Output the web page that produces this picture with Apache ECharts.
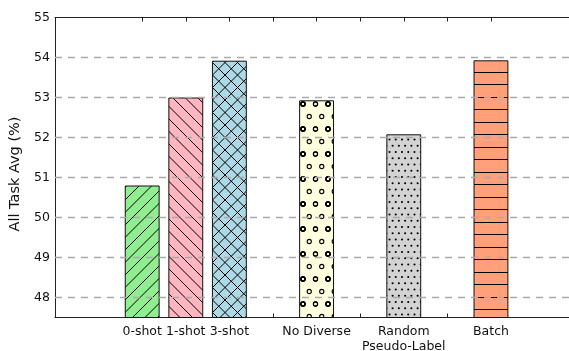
<!DOCTYPE html>
<html>
<head>
<meta charset="utf-8">
<script src="https://cdn.jsdelivr.net/npm/echarts@6/dist/echarts.min.js"></script>
<style>
  html, body { margin: 0; padding: 0; background: #fff; }
  #chart { width: 569px; height: 351px; }
</style>
</head>
<body>
<div id="chart"></div>
<script>
// Bar labels, their slot on the x axis, and the averaged score of each setting
const categories = ['0-shot', '1-shot', '3-shot', 'No Diverse', 'Random\nPseudo-Label', 'Batch'];
const positions = [0, 1, 2, 4, 6, 8];
const scores = [50.80, 53.00, 53.92, 52.93, 52.08, 53.93];

// Axis ticks
const xTickSlots = [0, 1, 2, 3, 4, 5, 6, 7, 8];
const yTicks = [48, 49, 50, 51, 52, 53, 54, 55];
const yGrid = [48, 49, 50, 51, 52, 53, 54];

// Fill colour and hatch style per bar
const fills = ['#90EE90', '#FFB6C1', '#ADD8E6', '#FFFFE0', '#D3D3D3', '#FFA07A'];
const hatches = ['/', '\\', 'x', 'o', '.', '-'];

const FONT = 'DejaVu Sans';
// the plot runs off the right edge of the figure, so the visible x range ends short of 10
const X_MIN = -2, X_MAX = 9.79;
const GRID = { left: 55, top: 17.5, width: 514, height: 300 };

// Build a repeating canvas tile with the fill colour and a black hatch on top
function hatchTile(fill, kind) {
  const S = 25, step = 12.5;
  const c = document.createElement('canvas');
  c.width = S; c.height = S;
  const g = c.getContext('2d');
  g.fillStyle = fill;
  g.fillRect(0, 0, S, S);
  g.strokeStyle = '#000';
  g.fillStyle = '#000';
  g.lineWidth = 1;

  const rising = () => {
    g.beginPath();
    for (let k = -4; k <= 12; k++) {
      const cc = k * step - S;
      g.moveTo(-S, cc + S);
      g.lineTo(2 * S, cc - 2 * S);
    }
    g.stroke();
  };
  const falling = () => {
    g.beginPath();
    for (let k = -8; k <= 8; k++) {
      const cc = k * step;
      g.moveTo(-S, cc - S);
      g.lineTo(2 * S, cc + 2 * S);
    }
    g.stroke();
  };

  if (kind === '/') rising();
  else if (kind === '\\') falling();
  else if (kind === 'x') { rising(); falling(); }
  else if (kind === '-') {
    g.beginPath();
    [9.5, 22.5].forEach(y => { g.moveTo(0, y); g.lineTo(S, y); });
    g.stroke();
  } else if (kind === 'o') {
    g.lineWidth = 1.1;
    const rows = [[0, [0, 12.5, 25]], [12.5, [6.25, 18.75]], [25, [0, 12.5, 25]]];
    const shifts = [[0, 0], [-S, 0], [0, -S], [-S, -S]];
    rows.forEach(([y, xs]) => xs.forEach(x => {
      shifts.forEach(([dx, dy]) => {
        g.beginPath();
        g.arc(x + 3 + dx, y + 4 + dy, 2.1, 0, Math.PI * 2);
        g.stroke();
      });
    }));
  } else if (kind === '.') {
    const d = 6.25;
    for (let k = 0; k <= 4; k++) {
      for (let m = -1; m <= 4; m++) {
        const x = m * d + (k % 2 ? d / 2 : 0) + 2;
        const y = k * d + 2;
        g.beginPath();
        g.arc(x, y, 1.05, 0, Math.PI * 2);
        g.fill();
      }
    }
  }
  return c;
}

const barData = positions.map((p, i) => ({
  value: [p, scores[i]],
  itemStyle: {
    color: { image: hatchTile(fills[i], hatches[i]), repeat: 'repeat' }
  }
}));

const barWidth = 0.8 * GRID.width / (X_MAX - X_MIN);

const chart = echarts.init(document.getElementById('chart'), null, { renderer: 'canvas' });
chart.setOption({
  animation: false,
  backgroundColor: '#fff',
  textStyle: { fontFamily: FONT },
  grid: {
    left: GRID.left, top: GRID.top, width: GRID.width, height: GRID.height,
    containLabel: false, outerBoundsMode: 'none'
  },
  xAxis: [
    {
      type: 'value',
      position: 'bottom',
      min: X_MIN,
      max: X_MAX,
      axisLine: { show: true, onZero: false, lineStyle: { color: '#222', width: 1 } },
      axisTick: { show: true, inside: true, length: 4, customValues: xTickSlots, lineStyle: { color: '#222' } },
      axisLabel: {
        customValues: positions,
        formatter: v => categories[positions.indexOf(v)] || '',
        fontFamily: FONT, fontSize: 12.5, color: '#111', lineHeight: 15, margin: 7
      },
      splitLine: { show: false }
    },
    {
      type: 'value',
      position: 'top',
      min: X_MIN,
      max: X_MAX,
      axisLine: { show: true, onZero: false, lineStyle: { color: '#222', width: 1 } },
      axisTick: { show: true, inside: true, length: 4, customValues: xTickSlots, lineStyle: { color: '#222' } },
      axisLabel: { show: false },
      splitLine: { show: false }
    }
  ],
  yAxis: {
    type: 'value',
    min: 47.5,
    max: 55,
    name: 'All Task Avg (%)',
    nameLocation: 'middle',
    nameGap: 28,
    nameTextStyle: { fontFamily: FONT, fontSize: 14.5, color: '#111', padding: [0, 13, 0, 0] },
    axisLine: { show: true, onZero: false, lineStyle: { color: '#222', width: 1 } },
    axisTick: { show: true, inside: true, length: 4, customValues: yTicks, lineStyle: { color: '#222' } },
    axisLabel: { customValues: yTicks, fontFamily: FONT, fontSize: 12.5, color: '#111', margin: 5 },
    splitLine: { show: false }
  },
  series: [{
    type: 'bar',
    xAxisIndex: 0,
    data: barData,
    barWidth: barWidth,
    itemStyle: { borderColor: '#111', borderWidth: 1 },
    markLine: {
      silent: true,
      symbol: 'none',
      label: { show: false },
      z: 10,
      lineStyle: { color: '#aaaaaa', type: [7, 6], width: 1.3 },
      data: yGrid.map(v => ({ yAxis: v }))
    }
  }]
});
</script>
</body>
</html>
